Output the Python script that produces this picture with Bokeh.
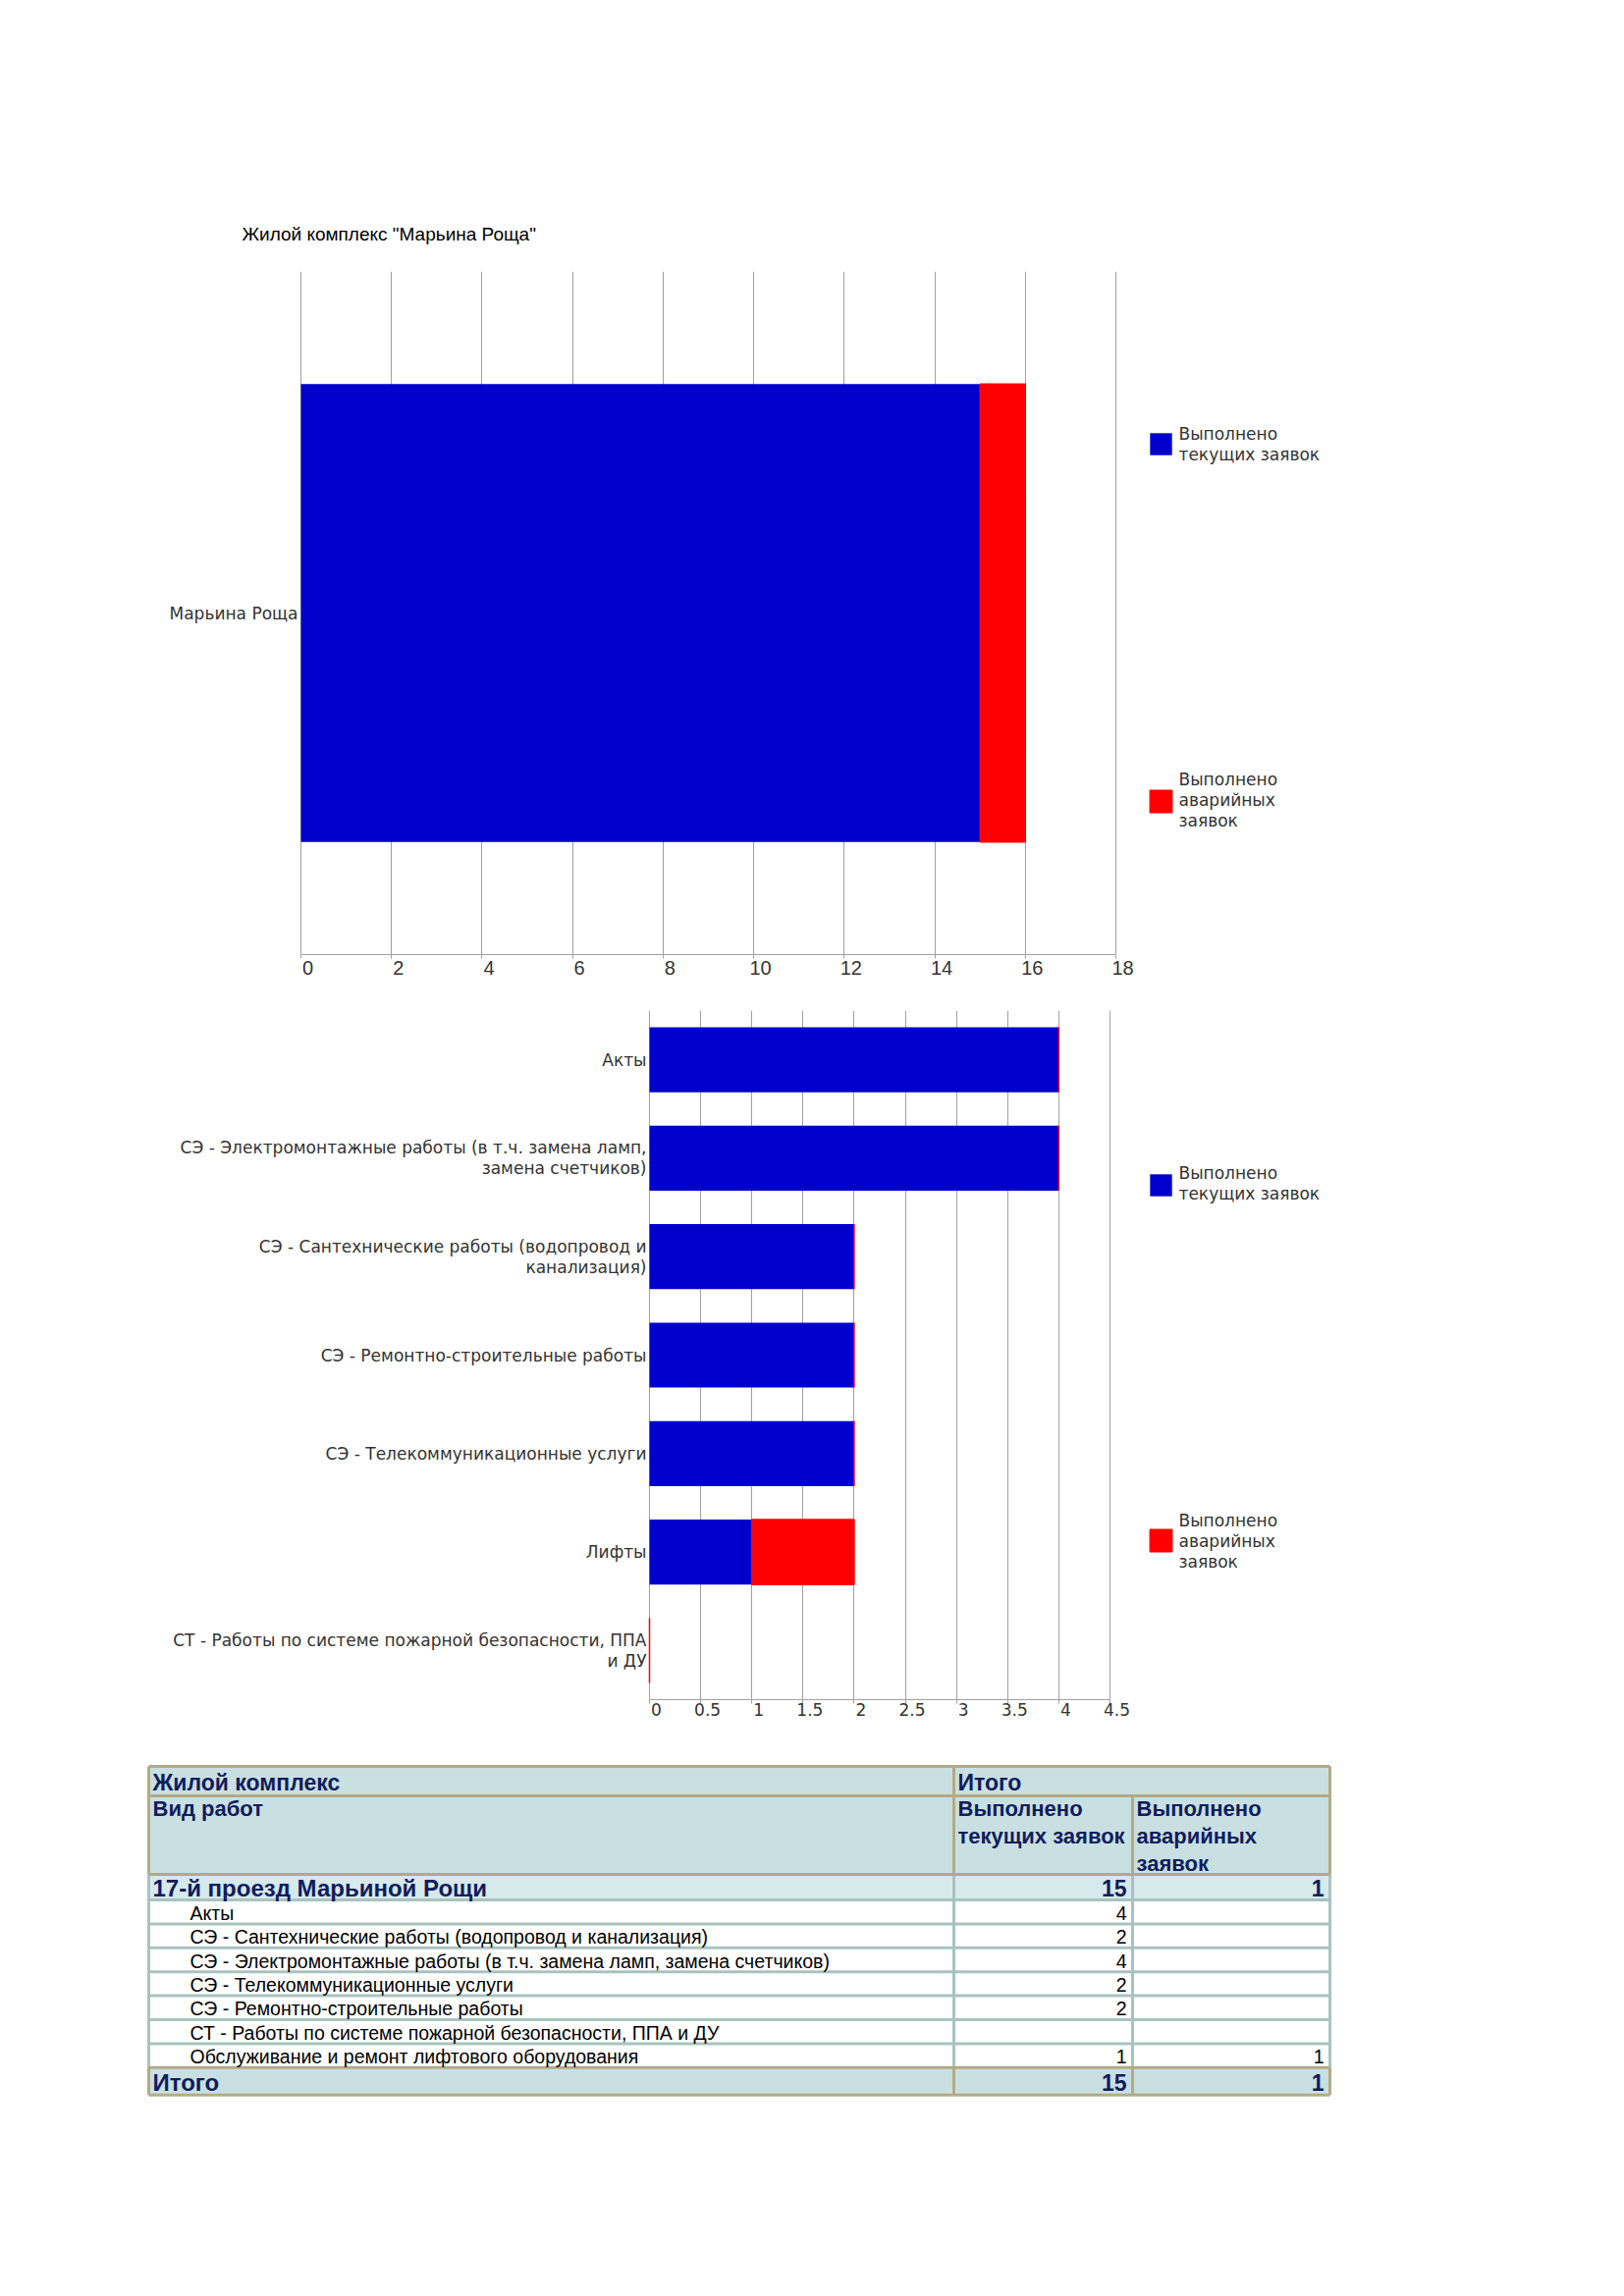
from bokeh.plotting import figure
from bokeh.models import (FactorRange, Range1d, LinearAxis, SingleIntervalTicker,
                          NumeralTickFormatter, PrintfTickFormatter, Legend, LegendItem,
                          ColumnDataSource)
from bokeh.layouts import column
from bokeh.embed import file_html
from bokeh.resources import INLINE
from bokeh.core.properties import value

# ---------------- data ----------------
chart_title = 'Жилой комплекс "Марьина Роща"'
legend_current_lines = ["Выполнено", "текущих заявок"]
legend_emergency_lines = ["Выполнено", "аварийных", "заявок"]

complex_names = ["Марьина Роща"]
complex_current = [15]
complex_emergency = [1]
complex_xmax = 18
complex_step = 2

work_names = [
    "Акты",
    "СЭ - Электромонтажные работы (в т.ч. замена ламп, замена счетчиков)",
    "СЭ - Сантехнические работы (водопровод и канализация)",
    "СЭ - Ремонтно-строительные работы",
    "СЭ - Телекоммуникационные услуги",
    "Лифты",
    "СТ - Работы по системе пожарной безопасности, ППА и ДУ",
]
work_labels = [
    "Акты",
    "СЭ - Электромонтажные работы (в т.ч. замена ламп,\nзамена счетчиков)",
    "СЭ - Сантехнические работы (водопровод и\nканализация)",
    "СЭ - Ремонтно-строительные работы",
    "СЭ - Телекоммуникационные услуги",
    "Лифты",
    "СТ - Работы по системе пожарной безопасности, ППА\nи ДУ",
]
work_current = [4, 4, 2, 2, 2, 1, 0]
work_emergency = [0, 0, 0, 0, 0, 1, 0]
work_xmax = 4.5
work_step = 0.5

table_head_1 = ["Жилой комплекс", "Итого"]
table_head_2 = [["Вид работ"], ["Выполнено", "текущих заявок"], ["Выполнено", "аварийных", "заявок"]]
table_group = "17-й проезд Марьиной Рощи"
table_rows = [
    "Акты",
    "СЭ - Сантехнические работы (водопровод и канализация)",
    "СЭ - Электромонтажные работы (в т.ч. замена ламп, замена счетчиков)",
    "СЭ - Телекоммуникационные услуги",
    "СЭ - Ремонтно-строительные работы",
    "СТ - Работы по системе пожарной безопасности, ППА и ДУ",
    "Обслуживание и ремонт лифтового оборудования",
]
table_current = [4, 2, 4, 2, 2, None, 1]
table_emergency = [None, None, None, None, None, None, 1]
table_total_label = "Итого"

# ---------------- styles ----------------
PAGE_W = 1638
LEFT = 0
BLUE = "#0000cc"
RED = "#ff0000"
GRID = "#a0a0a0"
LABEL_COLOR = "#333333"
CAT_FONT = "DejaVu Sans"
CAT_SIZE = "17px"


def make_chart(cats, labels, cur, emer, xmax, step, fmt, zero_px, data_w, frame_top,
               frame_h, fig_top, fig_bottom, bar_h, tick_font, tick_size, tick_standoff,
               sq_centers, text_ys, title=None):
    ppu = data_w / xmax
    x0 = -(zero_px - LEFT) / ppu
    x1 = x0 + PAGE_W / ppu
    shift = 7 / ppu
    fb = frame_top + frame_h
    N = len(cats)
    p = figure(y_range=FactorRange(factors=list(reversed(cats)), range_padding=0),
               x_range=Range1d(x0, x1), frame_width=PAGE_W, frame_height=frame_h,
               min_border_left=0, min_border_right=0,
               min_border_top=frame_top - fig_top, min_border_bottom=fig_bottom - fb,
               y_axis_location=None, output_backend="svg", toolbar_location=None,
               outline_line_color=None, background_fill_color="white")

    src = ColumnDataSource(dict(cat=cats, cur=cur, end=[c + e for c, e in zip(cur, emer)]))
    r_cur = p.hbar(y="cat", left=0, right="cur", height=bar_h, source=src,
                   fill_color=BLUE, line_color=None)
    r_emg = p.hbar(y="cat", left="cur", right="end", height=bar_h, source=src,
                   fill_color=RED, line_color=RED, line_width=1.5)

    # main x axis: line + tick marks only
    xa = p.xaxis[0]
    xa.bounds = (0, xmax)
    xa.ticker = SingleIntervalTicker(interval=step)
    xa.formatter = PrintfTickFormatter(format="")
    xa.axis_line_color = GRID
    xa.major_tick_line_color = GRID
    xa.major_tick_out = 4
    xa.major_tick_in = 0
    xa.minor_tick_line_color = None
    xa.major_label_text_font_size = "1px"
    xa.major_label_standoff = 0
    p.xgrid.ticker = SingleIntervalTicker(interval=step)
    p.xgrid.bounds = (-1e-3, xmax + 1e-3)
    p.xgrid.grid_line_color = GRID
    p.ygrid.grid_line_color = None

    # label axis: labels start just right of their tick
    p.extra_x_ranges = {"lab": Range1d(x0 - shift, x1 - shift)}
    lab = LinearAxis(x_range_name="lab", ticker=SingleIntervalTicker(interval=step),
                     bounds=(0, xmax), formatter=fmt, axis_line_color=None,
                     major_tick_line_color=None, minor_tick_line_color=None,
                     major_tick_out=0, major_tick_in=0,
                     major_label_text_align="left", major_label_standoff=tick_standoff,
                     major_label_text_font=tick_font, major_label_text_font_size=tick_size,
                     major_label_text_color=LABEL_COLOR)
    p.add_layout(lab, "below")

    # category labels (right-aligned at x = 0)
    lx, ly, lt, lo = [], [], [], []
    for c, lab_text in zip(cats, labels):
        lines = lab_text.split("\n")
        k = len(lines)
        for j, line in enumerate(lines):
            lx.append(0)
            ly.append(c)
            lt.append(line)
            lo.append((j - (k - 1) / 2) * 21)
    p.text(x="x", y="y", text="t", y_offset="o",
           source=ColumnDataSource(dict(x=lx, y=ly, t=lt, o=lo)),
           x_offset=-3, text_align="right", text_baseline="middle",
           text_font=value(CAT_FONT), text_font_size=value(CAT_SIZE), text_color=LABEL_COLOR)

    # legend squares (area-glyph legends are drawn at 80% of the glyph box)
    sq = 28
    for r, c in zip([r_cur, r_emg], sq_centers):
        leg = Legend(items=[LegendItem(label=value(" "), renderers=[r])],
                     location=(1168 - LEFT, fb - (c + sq // 2)),
                     padding=0, margin=0, spacing=0, glyph_width=sq, glyph_height=sq,
                     label_standoff=0, label_width=0, label_height=sq,
                     label_text_font_size="2px", border_line_color=None,
                     background_fill_alpha=0)
        p.add_layout(leg)
    # legend texts
    tx, ty, tt = [], [], []
    for lines, ys in zip([legend_current_lines, legend_emergency_lines], text_ys):
        for line, yy in zip(lines, ys):
            tx.append(x0 + (1200 - LEFT) / ppu)
            ty.append(N * (fb - yy) / frame_h)
            tt.append(line)
    p.text(x=tx, y=ty, text=tt, text_align="left", text_baseline="middle",
           text_font=value(CAT_FONT), text_font_size=value(CAT_SIZE), text_color=LABEL_COLOR)

    if title:
        p.title.text = title
        p.title.align = "left"
        p.title.offset = 246 - LEFT
        p.title.standoff = 56
        p.title.text_font = "Liberation Sans"
        p.title.text_font_size = "19px"
        p.title.text_font_style = "normal"
        p.title.text_color = "#000000"
    return p


p1 = make_chart(complex_names, complex_names, complex_current, complex_emergency,
                complex_xmax, complex_step, NumeralTickFormatter(format="0"),
                zero_px=306, data_w=830, frame_top=276, frame_h=696,
                fig_top=0, fig_bottom=1012, bar_h=0.67,
                tick_font="Liberation Sans", tick_size="20px", tick_standoff=-2,
                sq_centers=[452, 816], text_ys=[[441, 462], [793, 814, 835]],
                title=chart_title)

p2 = make_chart(work_names, work_labels, work_current, work_emergency,
                work_xmax, work_step, NumeralTickFormatter(format="0.[0]"),
                zero_px=661, data_w=469, frame_top=1029, frame_h=702,
                fig_top=1012, fig_bottom=1771, bar_h=0.66,
                tick_font=CAT_FONT, tick_size="17px", tick_standoff=-5,
                sq_centers=[1207, 1569], text_ys=[[1195, 1216], [1548, 1569, 1590]])

# ---------------- table ----------------
T_TOP_FIG, T_H = 1771, 400
t = figure(x_range=Range1d(LEFT, LEFT + PAGE_W), y_range=Range1d(T_TOP_FIG + T_H, T_TOP_FIG),
           frame_width=PAGE_W, frame_height=T_H, min_border=0,
           x_axis_type=None, y_axis_type=None, output_backend="svg",
           toolbar_location=None, outline_line_color=None)
t.xgrid.visible = False
t.ygrid.visible = False

XL, XC1, XC2, XR = 151, 971, 1153, 1354
T_TOP = 1799
H1, H2, HG, HR, HT = 30, 80, 26, 24.4, 28
y_h2 = T_TOP + H1
y_grp = y_h2 + H2
y_rows = y_grp + HG
n = len(table_rows)
y_tot = y_rows + HR * n
y_bot = y_tot + HT

HEAD_BG = "#c8e0e2"
GROUP_BG = "#d6e9eb"
TEAL = "#a8c3bf"
TAN = "#b4aa86"
NAVY = "#101c5e"

t.quad(left=[XL, XL, XL, XL], right=[XR] * 4,
       top=[T_TOP, y_grp, y_rows, y_tot], bottom=[y_grp, y_rows, y_tot, y_bot],
       fill_color=[HEAD_BG, GROUP_BG, "white", HEAD_BG], line_color=None)

row_edges = [y_rows + HR * i for i in range(n)]
t.segment(x0=[XL] * n, y0=row_edges, x1=[XR] * n, y1=row_edges, line_color=TEAL, line_width=3)
t.segment(x0=[XL, XC1, XC2, XR], y0=[y_grp] * 4, x1=[XL, XC1, XC2, XR], y1=[y_tot] * 4,
          line_color=TEAL, line_width=3)
t.segment(x0=[XL, XL, XL, XL, XL, XL, XR, XC1, XC2, XC1, XC2, XL, XR],
          y0=[T_TOP, y_h2, y_grp, y_tot, y_bot, T_TOP, T_TOP, T_TOP, y_h2, y_tot, y_tot, y_tot, y_tot],
          x1=[XR, XR, XR, XR, XR, XL, XR, XC1, XC2, XC1, XC2, XL, XR],
          y1=[T_TOP, y_h2, y_grp, y_tot, y_bot, y_grp, y_grp, y_grp, y_grp, y_bot, y_bot, y_bot, y_bot],
          line_color=TAN, line_width=3)

BOLD = dict(text_font=value("Liberation Sans"), text_font_style="bold",
            text_color=NAVY, text_baseline="middle")
t.text(x=[XL + 4, XC1 + 4], y=[T_TOP + H1 / 2 + 1] * 2, text=table_head_1,
       text_font_size="23px", **BOLD)
hx, hy, ht = [], [], []
for x0_, lines in zip([XL + 4, XC1 + 4, XC2 + 4], table_head_2):
    for k, line in enumerate(lines):
        hx.append(x0_)
        hy.append(y_h2 + 13 + 28 * k)
        ht.append(line)
t.text(x=hx, y=hy, text=ht, text_font_size="22px", **BOLD)

tot_cur = sum(v for v in table_current if v is not None)
tot_emg = sum(v for v in table_emergency if v is not None)
t.text(x=[XL + 4], y=[y_grp + HG / 2 + 1], text=[table_group], text_font_size="24px", **BOLD)
t.text(x=[XC2 - 6, XR - 6], y=[y_grp + HG / 2 + 1] * 2, text=[str(tot_cur), str(tot_emg)],
       text_font_size="23px", text_align="right", **BOLD)

row_y = [y_rows + HR * (i + 0.5) + 1 for i in range(n)]
t.text(x=[XL + 42] * n, y=row_y, text=table_rows, text_font=value("Liberation Sans"),
       text_font_size="19.5px", text_color="#000000", text_baseline="middle")
vals_x, vals_y, vals_t = [], [], []
for i in range(n):
    for xx, v in [(XC2 - 6, table_current[i]), (XR - 6, table_emergency[i])]:
        if v is not None:
            vals_x.append(xx)
            vals_y.append(row_y[i])
            vals_t.append(str(v))
t.text(x=vals_x, y=vals_y, text=vals_t, text_font=value("Liberation Sans"),
       text_font_size="19.5px", text_color="#000000", text_baseline="middle", text_align="right")
t.text(x=[XL + 4], y=[y_tot + HT / 2 + 1], text=[table_total_label], text_font_size="24px", **BOLD)
t.text(x=[XC2 - 6, XR - 6], y=[y_tot + HT / 2 + 1] * 2, text=[str(tot_cur), str(tot_emg)],
       text_font_size="23px", text_align="right", **BOLD)

layout = column(p1, p2, t, spacing=0)
open("out.html", "w").write(file_html(layout, INLINE))
